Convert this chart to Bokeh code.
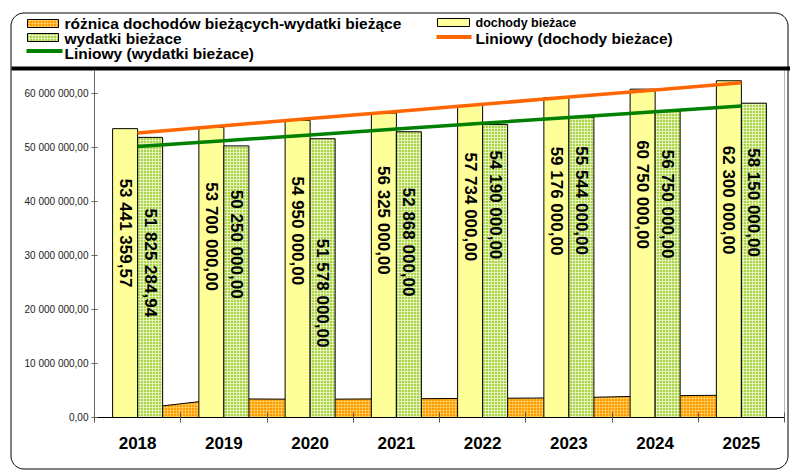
import numpy as np
from bokeh.plotting import figure
from bokeh.models import Range1d, FixedTicker
from bokeh.embed import file_html
from bokeh.resources import INLINE
from bokeh.core.properties import value

# ---------------- data ----------------
years = ["2018", "2019", "2020", "2021", "2022", "2023", "2024", "2025"]
dochody = [53441359.57, 53700000.00, 54950000.00, 56325000.00,
           57734000.00, 59176000.00, 60750000.00, 62300000.00]
wydatki = [51825284.94, 50250000.00, 51578000.00, 52868000.00,
           54190000.00, 55544000.00, 56750000.00, 58150000.00]
roznica = [1616074.63, 3450000.00, 3372000.00, 3457000.00,
           3544000.00, 3632000.00, 4000000.00, 4150000.00]
y_ticks = [0, 10000000, 20000000, 30000000, 40000000, 50000000, 60000000]
y_tick_labels = ["0,00", "10 000 000,00", "20 000 000,00", "30 000 000,00",
                 "40 000 000,00", "50 000 000,00", "60 000 000,00"]
legend_names = ["różnica dochodów bieżących-wydatki bieżące", "dochody bieżace",
                "wydatki bieżace", "Liniowy (dochody bieżace)",
                "Liniowy (wydatki bieżace)"]

# ---------------- layout / style ----------------
lab_off_d = [50, 55, 56, 53, 47, 49, 51, 65]   # px below bar top where label starts
lab_off_w = [71, 44, 100, 56, 26, 29, 39, 45]
FONT = "Liberation Sans"
W, H = 790, 470
PL, PR, PT, PB = 94, 784, 70, 417     # plot area in px
Y_TOP = 64.2e6
C_YEL, C_GRN, C_ORG = "#FFFF99", "#AAD444", "#FF9900"
C_TR_D, C_TR_W = "#FF6600", "#008000"


def fmt(v):
    s = f"{v:,.2f}"
    return s.replace(",", " ").replace(".", ",")


n = len(years)
SX = (PR - PL) / n
SY = (PB - PT) / Y_TOP


def X(px):
    return (px - PL) / SX


def Y(py):
    return (PB - py) / SY


centers = [i + 0.5 for i in range(n)]
idx = np.arange(1, n + 1)
trend_d = list(np.polyval(np.polyfit(idx, dochody, 1), idx))
trend_w = list(np.polyval(np.polyfit(idx, wydatki, 1), idx))

p = figure(width=W, height=H, x_range=Range1d(X(0), X(W)), y_range=Range1d(Y(H), Y(0)),
           output_backend="svg", toolbar_location=None,
           min_border_left=0, min_border_right=0, min_border_top=0, min_border_bottom=0)
p.xgrid.visible = False
p.ygrid.visible = False
p.outline_line_color = None
p.background_fill_color = "white"
p.border_fill_color = "white"

# x axis
xa = p.xaxis[0]
xa.fixed_location = 0
xa.bounds = (0, n)
xa.ticker = FixedTicker(ticks=centers, minor_ticks=list(range(n + 1)))
xa.major_label_overrides = {c: y for c, y in zip(centers, years)}
xa.major_tick_in = 0
xa.major_tick_out = 0
xa.minor_tick_in = 5
xa.minor_tick_out = 5
xa.minor_tick_line_color = "#555555"
xa.axis_line_color = "black"
xa.major_label_text_font = FONT
xa.major_label_text_font_size = "17px"
xa.major_label_text_font_style = "bold"
xa.major_label_text_color = "black"
xa.major_label_standoff = 14

# y axis
ya = p.yaxis[0]
ya.fixed_location = 0
ya.bounds = (0, Y_TOP)
ya.ticker = FixedTicker(ticks=y_ticks, minor_ticks=[])
ya.major_label_overrides = {t: l for t, l in zip(y_ticks, y_tick_labels)}
ya.major_tick_in = 3
ya.major_tick_out = 3
ya.minor_tick_line_color = None
ya.axis_line_color = "#666666"
ya.major_tick_line_color = "#666666"
ya.major_label_text_font = FONT
ya.major_label_text_font_size = "10px"
ya.major_label_text_color = "#222222"
ya.major_label_standoff = 3

hatch_o = dict(hatch_pattern="cross", hatch_color="#FFD060", hatch_alpha=0.8,
               hatch_scale=3, hatch_weight=1)
hatch_g = dict(hatch_pattern="cross", hatch_color="#EEF8D0", hatch_alpha=0.8,
               hatch_scale=3, hatch_weight=1)

# area (difference)
p.varea(x=centers, y1=0, y2=roznica, fill_color=C_ORG, **hatch_o)
p.line(centers, roznica, line_color="black", line_width=1)

BW = 0.29
xd = [c - BW / 2 for c in centers]
xw = [c + BW / 2 for c in centers]
p.vbar(x=xd, width=BW, top=dochody, bottom=0, fill_color=C_YEL,
       line_color="black", line_width=1)
p.vbar(x=xw, width=BW, top=wydatki, bottom=0, fill_color=C_GRN,
       line_color="black", line_width=1, **hatch_g)

# trend lines
p.line(centers, trend_d, line_color=C_TR_D, line_width=3.5)
p.line(centers, trend_w, line_color=C_TR_W, line_width=3.5)

# rotated value labels
lab_style = dict(angle=-np.pi / 2, text_align="left", text_baseline="middle",
                 text_font=value(FONT), text_font_style="bold",
                 text_font_size="17px", text_color="black")
p.text(x=xd, y=[v - o / SY for v, o in zip(dochody, lab_off_d)],
       text=[fmt(v) for v in dochody], **lab_style)
p.text(x=xw, y=[v - o / SY for v, o in zip(wydatki, lab_off_w)],
       text=[fmt(v) for v in wydatki], **lab_style)

# right edge of plot area
p.segment(x0=[n], y0=[0], x1=[n], y1=[Y_TOP], line_color="#B8B8B8", line_width=1)

# legend band bottom (thick line)
p.quad(left=[X(11)], right=[X(W)], top=[Y(66)], bottom=[Y(70)],
       fill_color="black", line_color=None)

# outer rounded frame
fl, ft, fr, fb, rr = 10.5, 12.5, 787.5, 468.5, 13
pts = []
for (cx, cy, a0) in [(fr - rr, ft + rr, -90), (fr - rr, fb - rr, 0),
                     (fl + rr, fb - rr, 90), (fl + rr, ft + rr, 180)]:
    for a in np.linspace(a0, a0 + 90, 12):
        r = np.radians(a)
        pts.append((cx + rr * np.cos(r), cy + rr * np.sin(r)))
pts.append(pts[0])
p.line([X(a) for a, b in pts], [Y(b) for a, b in pts], line_color="black", line_width=1)

# legend
p.quad(left=[X(27)], right=[X(58)], top=[Y(19)], bottom=[Y(27)],
       fill_color=C_ORG, line_color="black", line_width=1, **hatch_o)
p.quad(left=[X(27)], right=[X(58)], top=[Y(33)], bottom=[Y(41)],
       fill_color=C_GRN, line_color="black", line_width=1, **hatch_g)
p.quad(left=[X(437)], right=[X(469)], top=[Y(18)], bottom=[Y(26)],
       fill_color=C_YEL, line_color="black", line_width=1)
p.segment(x0=[X(26)], y0=[Y(50.5)], x1=[X(62)], y1=[Y(50.5)],
          line_color=C_TR_W, line_width=4)
p.segment(x0=[X(436)], y0=[Y(36.5)], x1=[X(471)], y1=[Y(36.5)],
          line_color=C_TR_D, line_width=4)

leg_style = dict(text_baseline="middle", text_align="left", text_font=value(FONT),
                 text_font_style="bold", text_color="black")
p.text(x=[X(64), X(64), X(64)], y=[Y(23), Y(38), Y(52.5)],
       text=[legend_names[0], legend_names[2], legend_names[4]],
       text_font_size="15.5px", **leg_style)
p.text(x=[X(475)], y=[Y(37.5)], text=[legend_names[3]],
       text_font_size="15.5px", **leg_style)
p.text(x=[X(475)], y=[Y(22.5)], text=[legend_names[1]],
       text_font_size="12.5px", **leg_style)

open("out.html", "w").write(file_html(p, INLINE))
